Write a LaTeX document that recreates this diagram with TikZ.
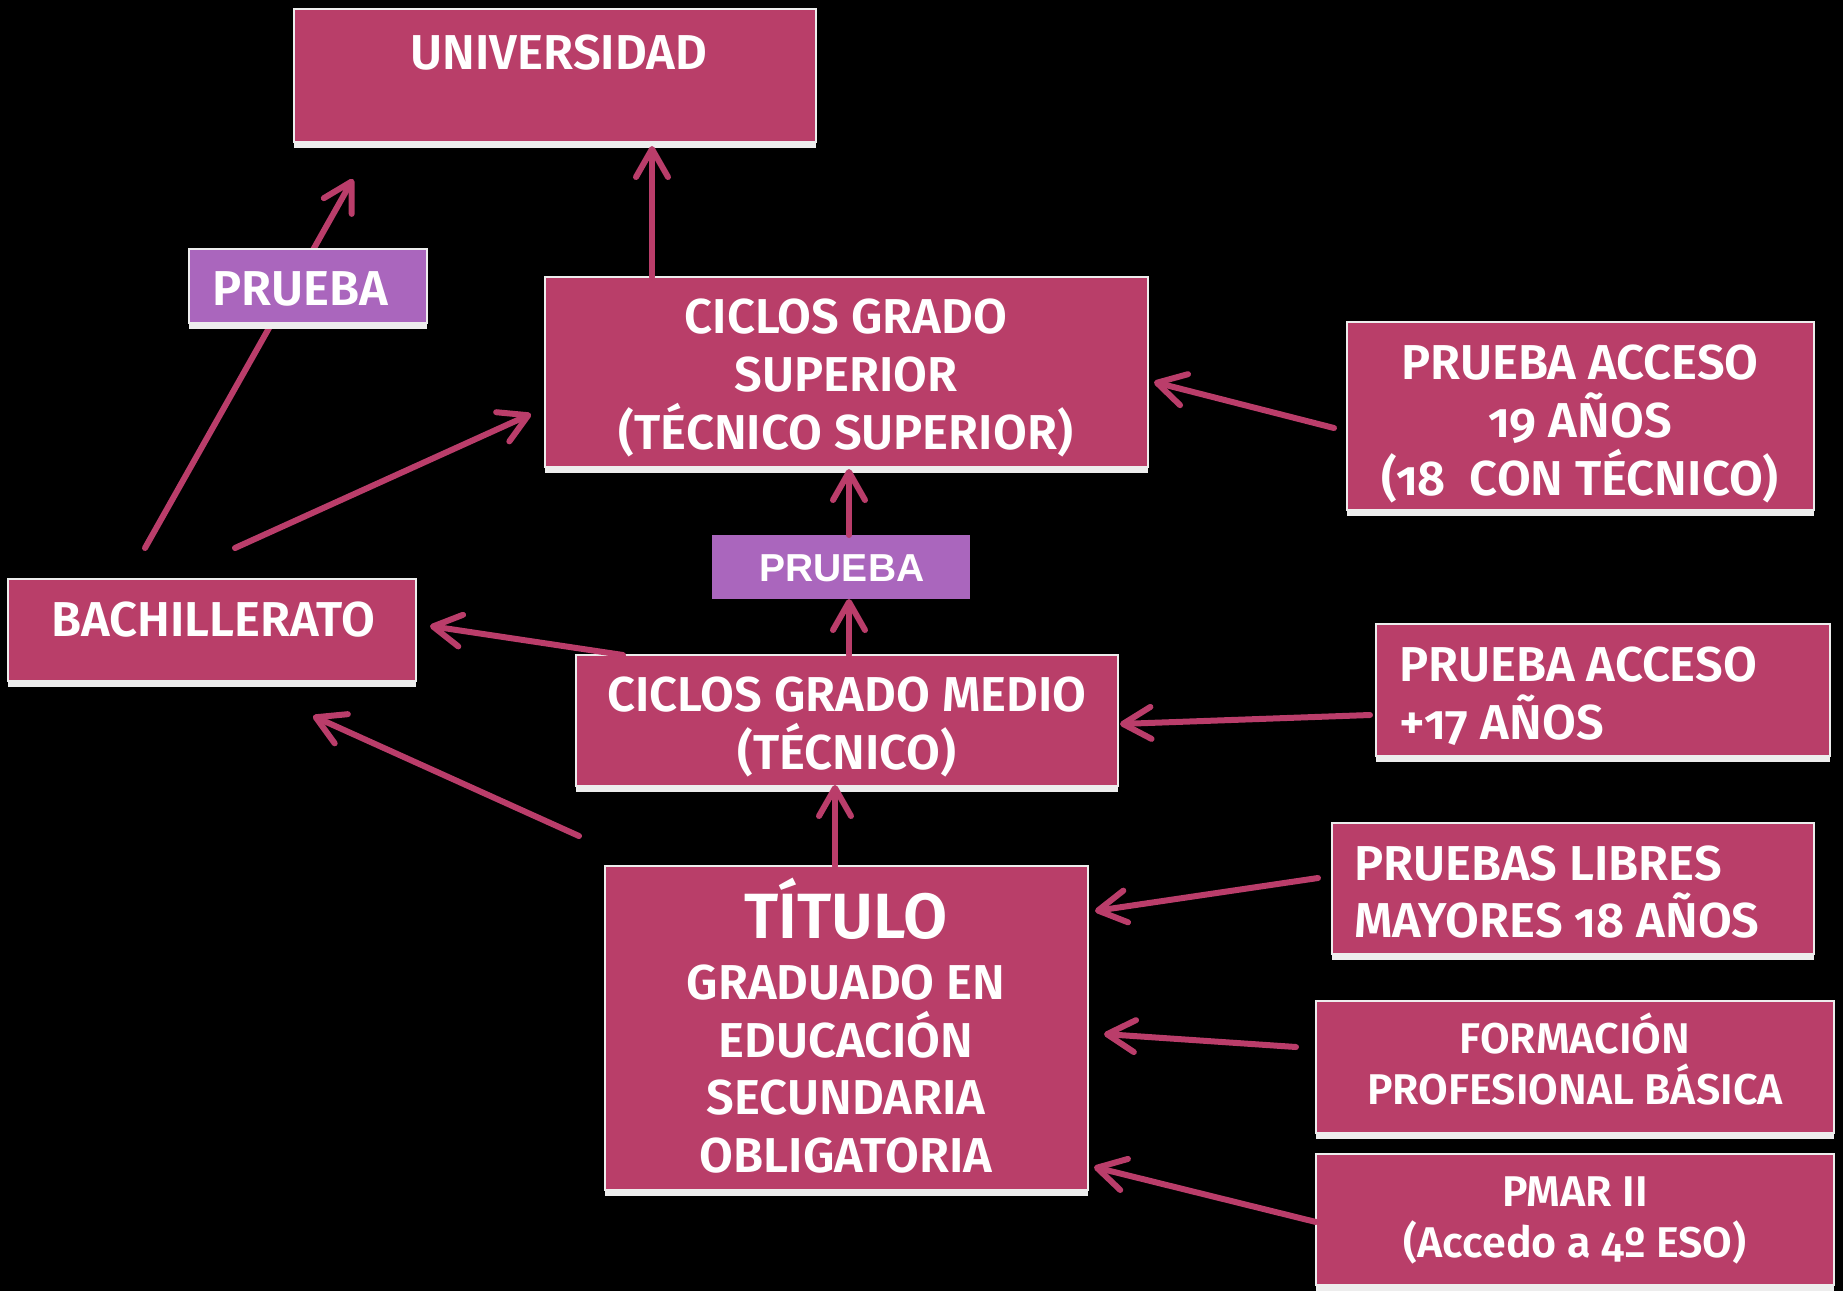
\documentclass[tikz,border=0pt]{standalone}
\usepackage{fontspec}
\setmainfont{Fira Sans}[BoldFont={Fira Sans SemiBold},Numbers=OldStyle]
\newfontfamily\arialb{Liberation Sans}
\usetikzlibrary{arrows.meta}
\definecolor{boxc}{HTML}{B93E69}
\definecolor{arrc}{HTML}{BA3D6A}
\definecolor{purp}{HTML}{AA66BD}
\definecolor{edgec}{HTML}{EDEDED}
\newcommand\pbox[6]{%
  \node[#6, minimum width={(#4-#2)*0.5pt}, minimum height={(#5-#3)*0.5pt}] (#1) at ({(#2+#4)/2},{(#3+#5)/2}) {};}
\newcommand\pstrip[1]{\fill[edgec] (#1.south west) rectangle ([yshift=-3pt]#1.south east);}
\tikzset{
  box/.style={rectangle, inner sep=0pt, outer sep=0pt, fill=boxc, draw=edgec, line width=0.7pt},
  pbx/.style={rectangle, inner sep=0pt, outer sep=0pt, fill=purp, draw=edgec, line width=0.7pt},
  mbx/.style={rectangle, inner sep=0pt, outer sep=0pt, fill=purp},
  txt/.style={text=white, align=center, inner sep=0pt, font=\bfseries\fontsize{24.5}{28.8}\selectfont},
  txtl/.style={text=white, align=left, inner sep=0pt, anchor=west, font=\bfseries\fontsize{24.5}{28.8}\selectfont},
  txts/.style={text=white, align=center, inner sep=0pt, font=\bfseries\fontsize{21.5}{25.5}\selectfont},
  conn/.style={draw=arrc, line width=3pt, line cap=round, line join=round,
    -{Straight Barb[length=14pt,width=16pt,line cap=round,line join=round]}},
}
\begin{document}
\begin{tikzpicture}[x=0.5pt,y=-0.5pt]
\fill[black] (0,0) rectangle (1843,1291);
\useasboundingbox (0,0) rectangle (1843,1291);
% arrow behind the left PRUEBA box
\coordinate (a1s) at (145,548);
\coordinate (a1e) at (353,179);
\draw[conn] (a1s) -- (a1e);
% boxes
\pbox{univ}{294}{9}{816}{142}{box}
\pbox{lpru}{189}{249}{427}{323}{pbx}
\pbox{sup}{545}{277}{1148}{467}{box}
\pbox{pa19}{1347}{322}{1814}{510}{box}
\pbox{mpru}{712}{535}{970}{599}{mbx}
\pbox{bach}{8}{579}{416}{681}{box}
\pbox{medio}{576}{655}{1118}{786}{box}
\pbox{pa17}{1376}{624}{1830}{756}{box}
\pbox{tit}{605}{866}{1088}{1190}{box}
\pbox{pl}{1332}{823}{1814}{954}{box}
\pbox{fpb}{1316}{1001}{1834}{1133}{box}
\pbox{pmar}{1316}{1154}{1834}{1285}{box}
\foreach \n in {univ,lpru,sup,pa19,bach,medio,pa17,tit,pl,fpb,pmar}{\pstrip{\n}}
% texts
\node[txt] (tuniv) at (559,53) {UNIVERSIDAD};
\node[txt] (tlpru) at (300,289) {PRUEBA};
\node[txt] (tsup) at (846,378) {CICLOS GRADO\\SUPERIOR\\(TÉCNICO SUPERIOR)};
\node[txt] (tpa19) at (1580,424) {PRUEBA ACCESO\\19 AÑOS\\(18\ \ CON TÉCNICO)};
\node[text=white, inner sep=0pt, font=\arialb\bfseries\fontsize{19.5}{23}\selectfont] (tmpru) at (842,568) {PRUEBA};
\node[txt] (tbach) at (213,620) {BACHILLERATO};
\node[txt] (tmedio) at (847,727) {CICLOS GRADO MEDIO\\(TÉCNICO)};
\node[txtl] (tpa17) at (1399,696) {PRUEBA ACCESO\\+17 AÑOS};
\node[txt, font=\bfseries\fontsize{32}{38}\selectfont] (ttit1) at (846,909) {TÍTULO};
\node[txt] (ttit2) at (846,1069) {GRADUADO EN\\EDUCACIÓN\\SECUNDARIA\\OBLIGATORIA};
\node[txtl] (tpl) at (1354,892) {PRUEBAS LIBRES\\MAYORES 18 AÑOS};
\node[txts] (tfpb) at (1575,1059) {FORMACIÓN\\PROFESIONAL BÁSICA};
\node[txts] (tpmar) at (1575,1220) {PMAR II\\(Accedo a 4º ESO)};
% connector end points
\coordinate (cx) at (849,0);
\coordinate (a2s) at (235,548);
\coordinate (a2e) at (531,414);
\coordinate (a3s) at (652,277);
\coordinate (a3e) at (652,146);
\coordinate (a4s) at (1334,428);
\coordinate (a4e) at (1154,382);
\coordinate (a6s) at (623,655);
\coordinate (a6e) at (430,626);
\coordinate (a7s) at (579,836);
\coordinate (a7e) at (313,716);
\coordinate (a8s) at (835,866);
\coordinate (a8e) at (835,785);
\coordinate (a9s) at (1370,715);
\coordinate (a9e) at (1120,724);
\coordinate (a10s) at (1318,878);
\coordinate (a10e) at (1095,911);
\coordinate (a11s) at (1296,1047);
\coordinate (a11e) at (1104,1034);
\coordinate (a12s) at (1316,1222);
\coordinate (a12e) at (1094,1167);
% connectors
\draw[conn] (a2s) -- (a2e);
\draw[conn] (a3s) -- (a3e);
\draw[conn] (a4s) -- (a4e);
\draw[conn] (medio.north -| cx) -- (mpru.south -| cx);
\draw[conn] (mpru.north -| cx) -- ([yshift=-1pt]sup.south -| cx);
\draw[conn] (a6s) -- (a6e);
\draw[conn] (a7s) -- (a7e);
\draw[conn] (a8s) -- (a8e);
\draw[conn] (a9s) -- (a9e);
\draw[conn] (a10s) -- (a10e);
\draw[conn] (a11s) -- (a11e);
\draw[conn] (a12s) -- (a12e);
\end{tikzpicture}
\end{document}
